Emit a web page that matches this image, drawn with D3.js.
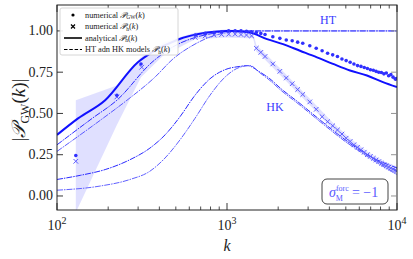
<!DOCTYPE html>
<html><head><meta charset="utf-8">
<script src="https://cdn.jsdelivr.net/npm/d3@7"></script>
<style>
html,body{margin:0;padding:0;background:#fff;}
svg{display:block;font-family:"Liberation Serif","DejaVu Serif",serif;}
</style></head>
<body><svg id="c" width="413" height="259"></svg>
<script>
// ---- data ----
const analyticK = [100,133,192,299,362,508,761,1000,1088,1367,1720,2135,2688,3383,4202,5290,6659,8270,10000];
const analyticV = [0.37,0.47,0.58,0.81,0.87,0.945,0.99,1.0,1.0,0.99,0.95,0.92,0.88,0.84,0.80,0.76,0.73,0.69,0.66];

const ht1K = [100,161,225,362,475,648,828,1000,10000];
const ht1V = [0.31,0.47,0.58,0.81,0.90,0.96,0.985,1.0,1.0];
const ht2K = [100,186,258,377,481,648,828,1000,1143,10000];
const ht2V = [0.27,0.47,0.58,0.72,0.83,0.92,0.97,0.99,1.0,1.0];

const hk1K = [100,137,192,269,352,432,529,648,794,973,1191,1314,1565,1788,2050,2688,3530,5117,6943,10000];
const hk1V = [0.10,0.125,0.16,0.22,0.29,0.37,0.48,0.61,0.71,0.765,0.785,0.79,0.75,0.71,0.655,0.56,0.46,0.33,0.24,0.17];
const hk2K = [100,179,269,352,432,529,648,794,973,1191,1365,1565,1788,2050,2688,3530,5117,6943,10000];
const hk2V = [0.035,0.06,0.10,0.15,0.23,0.34,0.47,0.61,0.72,0.78,0.79,0.745,0.70,0.645,0.55,0.45,0.32,0.23,0.13];

const gwK = [129,225,312,651,744,837,930,1023,1116,1209,1302,1395,1488,1581,1674,1860,2046,2232,2418,2604,2790,3069,3348,3627,3906,4185,4464,4743,5022,5301,5580,5859,6138,6417,6696,6975,7254,7533,7812,8091,8370,8649,8928,9207,9486,9765,9951];
const gwV = [0.245,0.61,0.80,0.975,0.985,0.99,0.995,1.0,1.0,1.0,0.998,0.995,0.99,0.985,0.978,0.965,0.955,0.945,0.94,0.932,0.925,0.91,0.895,0.88,0.865,0.855,0.845,0.83,0.82,0.81,0.80,0.79,0.785,0.778,0.772,0.765,0.762,0.755,0.75,0.748,0.74,0.745,0.728,0.735,0.72,0.708,0.712];

const hK = [129,225,315,651,744,837,930,1023,1116,1209,1302,1395,1488,1581,1674,1860,2046,2232,2418,2604,2790,3069,3348,3627,3906,4185,4464,4743,5022,5301,5580,5859,6138,6417,6696,6975,7254,7533,7812,8091,8370,8649,8928,9207,9486,9765,9951];
const hV = [0.21,0.60,0.78,0.96,0.97,0.975,0.978,0.98,0.98,0.978,0.975,0.97,0.895,0.87,0.845,0.80,0.755,0.715,0.68,0.645,0.615,0.57,0.525,0.48,0.45,0.425,0.40,0.375,0.35,0.33,0.31,0.295,0.28,0.265,0.25,0.24,0.228,0.218,0.208,0.198,0.19,0.182,0.175,0.168,0.162,0.156,0.152];

const bandK  = [129,225,312,420,650,1000,1300,1423,1488,1674,2046,2604,3348,4185,5301,6696,8370,9951];
const bandHi = [0.58,0.67,0.84,0.93,0.99,1.01,1.0,0.99,0.915,0.865,0.775,0.665,0.55,0.445,0.35,0.27,0.21,0.18];
const bandLo = [-0.1,0.43,0.72,0.85,0.95,0.96,0.955,0.955,0.875,0.825,0.735,0.625,0.51,0.405,0.31,0.23,0.17,0.125];

const yTicks = [0.00,0.25,0.50,0.75,1.00];
const xMajor = [100,1000,10000];
const xMajorExp = ["2","3","4"];
const legendLabels = ["numerical ","numerical ","analytical ","HT adn HK models "];
const legendSubs = ["GW","h","h","h"];

// ---- setup ----
const L=57,R=397,T=5,B=210;
const svg=d3.select("#c");
const x=d3.scaleLog().domain([100,10000]).range([L,R]);
const y=d3.scaleLinear().domain([-0.085,1.157]).range([B,T]);
const zip=(a,b)=>a.map((v,i)=>[v,b[i]]);
const line=d3.line().x(d=>x(d[0])).y(d=>y(d[1])).curve(d3.curveMonotoneX);

svg.append("defs").append("clipPath").attr("id","clip")
  .append("rect").attr("x",L).attr("y",T).attr("width",R-L).attr("height",B-T);
const g=svg.append("g").attr("clip-path","url(#clip)");

// band
const area=d3.area().x(d=>x(d[0])).y0(d=>y(d[1])).y1(d=>y(d[2]));
g.append("path").datum(bandK.map((k,i)=>[k,bandLo[i],bandHi[i]]))
  .attr("d",area).attr("fill","#0000ff").attr("fill-opacity",0.12);

// model lines
const models=[[ht1K,ht1V,"#2a2aff"],[ht2K,ht2V,"#5a5aff"],[hk1K,hk1V,"#2a2aff"],[hk2K,hk2V,"#6060ff"]];
models.forEach(m=>{
  g.append("path").datum(zip(m[0],m[1])).attr("d",line)
   .attr("fill","none").attr("stroke",m[2]).attr("stroke-width",1)
   .attr("stroke-dasharray","6,1,1.5,1");
});

// analytic
g.append("path").datum(zip(analyticK,analyticV)).attr("d",line)
  .attr("fill","none").attr("stroke","#1010ff").attr("stroke-width",2);

// crosses
const cs=2.3;
g.selectAll(".cx").data(zip(hK,hV)).enter().append("path")
  .attr("d",d=>{const cx=x(d[0]),cy=y(d[1]);return `M${cx-cs},${cy-cs}L${cx+cs},${cy+cs}M${cx-cs},${cy+cs}L${cx+cs},${cy-cs}`;})
  .attr("stroke","#5a5aff").attr("stroke-width",1).attr("fill","none");

// dots
g.selectAll(".dt").data(zip(gwK,gwV)).enter().append("circle")
  .attr("cx",d=>x(d[0])).attr("cy",d=>y(d[1])).attr("r",1.8).attr("fill","#3030ff");

// ---- axes ----
const ax=svg.append("g");
const spine="#222";
ax.append("rect").attr("x",L).attr("y",T).attr("width",R-L).attr("height",B-T)
  .attr("fill","none").attr("stroke",spine).attr("stroke-width",1);
const minors=[];
[100,1000].forEach(b=>{for(let m=2;m<=9;m++)minors.push(b*m);});
minors.forEach(k=>{
  ax.append("line").attr("x1",x(k)).attr("x2",x(k)).attr("y1",B).attr("y2",B-3.5).attr("stroke",spine).attr("stroke-width",0.8);
  ax.append("line").attr("x1",x(k)).attr("x2",x(k)).attr("y1",T).attr("y2",T+3.5).attr("stroke",spine).attr("stroke-width",0.8);
});
xMajor.forEach((k,i)=>{
  ax.append("line").attr("x1",x(k)).attr("x2",x(k)).attr("y1",B).attr("y2",B-7).attr("stroke",spine).attr("stroke-width",0.9);
  ax.append("line").attr("x1",x(k)).attr("x2",x(k)).attr("y1",T).attr("y2",T+7).attr("stroke",spine).attr("stroke-width",0.9);
  const t=ax.append("text").attr("x",x(k)).attr("y",B+20).attr("text-anchor","middle")
    .attr("font-size",14).attr("fill","#222");
  t.append("tspan").text("10");
  t.append("tspan").attr("dy",-6).attr("font-size",10).text(xMajorExp[i]);
});
yTicks.forEach(v=>{
  ax.append("line").attr("x1",L).attr("x2",L+6).attr("y1",y(v)).attr("y2",y(v)).attr("stroke",spine).attr("stroke-width",0.9);
  ax.append("line").attr("x1",R).attr("x2",R-6).attr("y1",y(v)).attr("y2",y(v)).attr("stroke","#888").attr("stroke-width",0.9);
  ax.append("text").attr("x",L-4).attr("y",y(v)+4.5).attr("text-anchor","end")
    .attr("font-size",14).attr("fill","#222").text(v.toFixed(2));
});
ax.append("text").attr("x",x(1000)).attr("y",251).attr("text-anchor","middle")
  .attr("font-size",16).attr("font-style","italic").attr("fill","#222").text("k");
const yl=ax.append("text").attr("transform","translate(25,110) rotate(-90)")
  .attr("text-anchor","middle").attr("font-size",19).attr("fill","#222");
yl.append("tspan").text("|");
yl.append("tspan").attr("font-style","italic").text("𝒫");
yl.append("tspan").attr("dy",4).attr("font-size",12).text("GW");
yl.append("tspan").attr("dy",-4).text("(");
yl.append("tspan").attr("font-style","italic").text("k");
yl.append("tspan").text(")|");

// labels
svg.append("text").attr("x",328).attr("y",24).attr("text-anchor","middle")
  .attr("font-size",12).attr("fill","#3a3aff").text("HT");
svg.append("text").attr("x",275).attr("y",111).attr("text-anchor","middle")
  .attr("font-size",12).attr("fill","#3a3aff").text("HK");

// sigma box
svg.append("rect").attr("x",322).attr("y",179).attr("width",66).attr("height",25).attr("rx",5)
  .attr("fill","#fff").attr("stroke","#444").attr("stroke-width",1);
const st=svg.append("text").attr("x",329).attr("y",197).attr("font-size",14).attr("fill","#5a5aff");
st.append("tspan").attr("font-style","italic").text("σ");
st.append("tspan").attr("dy",-6).attr("font-size",8).text("forc");
st.append("tspan").attr("dx",-13).attr("dy",10).attr("font-size",8).text("M");
st.append("tspan").attr("dx",9).attr("dy",-4).text("= −1");

// legend
const lg=svg.append("g");
lg.append("rect").attr("x",60).attr("y",8).attr("width",118).attr("height",47).attr("rx",2)
  .attr("fill","#fff").attr("fill-opacity",0.9).attr("stroke","#ccc").attr("stroke-width",0.8);
const rows=[15,26.5,38,49.5];
rows.forEach((ry,i)=>{
  const mx=73;
  if(i===0) lg.append("circle").attr("cx",mx).attr("cy",ry).attr("r",1.6).attr("fill","#000");
  if(i===1) lg.append("path").attr("d",`M${mx-2},${ry-2}L${mx+2},${ry+2}M${mx-2},${ry+2}L${mx+2},${ry-2}`).attr("stroke","#000").attr("stroke-width",1.2);
  if(i===2) lg.append("line").attr("x1",64).attr("x2",82).attr("y1",ry).attr("y2",ry).attr("stroke","#000").attr("stroke-width",1.6);
  if(i===3) lg.append("line").attr("x1",64).attr("x2",82).attr("y1",ry).attr("y2",ry).attr("stroke","#000").attr("stroke-width",1.2).attr("stroke-dasharray","3.5,1.8");
  const t=lg.append("text").attr("x",85).attr("y",ry+2.8).attr("font-size",8.3).attr("fill","#222");
  t.append("tspan").text(legendLabels[i]);
  t.append("tspan").attr("font-style","italic").text("𝒫");
  t.append("tspan").attr("dy",1.5).attr("font-size",5.5).text(legendSubs[i]);
  t.append("tspan").attr("dy",-1.5).text("(");
  t.append("tspan").attr("font-style","italic").text("k");
  t.append("tspan").text(")");
});
</script></body></html>
